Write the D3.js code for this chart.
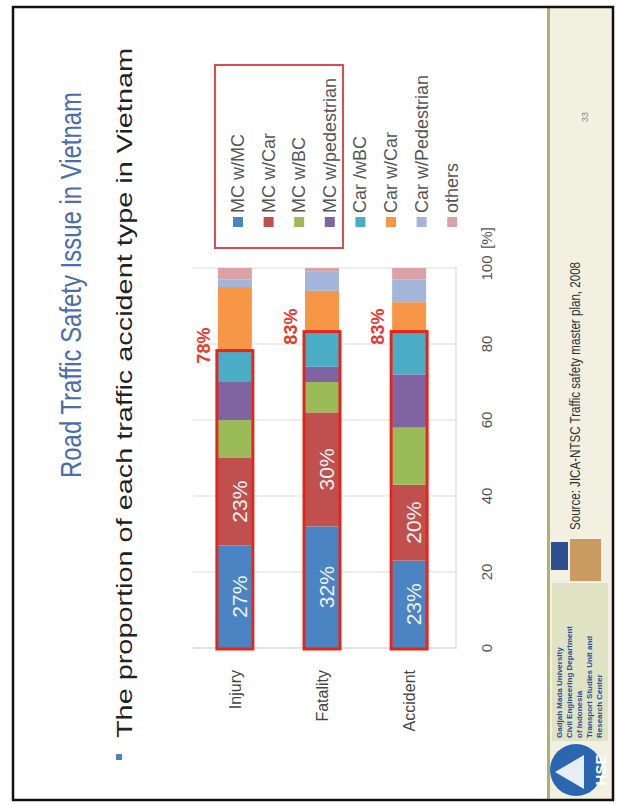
<!DOCTYPE html>
<html>
<head>
<meta charset="utf-8">
<script src="https://cdn.jsdelivr.net/npm/d3@7"></script>
<style>
  body{margin:0;background:#fff;}
  text{font-family:"Liberation Sans",Arial,sans-serif;}
</style>
</head>
<body>
<div class="canvas"></div>
<script>
// chart data
const categories=['Injury','Fatality','Accident'];
const types=['MC w/MC','MC w/Car','MC w/BC','MC w/pedestrian','Car /wBC','Car w/Car','Car w/Pedestrian','others'];
const injury=[27,23,10,10,8,17,2,3];
const fatality=[32,30,8,4,9,11,5,1];
const accident=[23,20,15,14,11,8,6,3];
const highlight=[78,83,83];// red boxed share per bar
const tickVals=[0,20,40,60,80,100];
const colours=['#4a84c2','#c0504d','#9bbb59','#8064a2','#4bacc6','#f79646','#a3b5d9','#dba2a6'];

const W=617,H=805;
const svg=d3.select('.canvas').append('svg')
    .attr('width',W).attr('height',H);

// slide is drawn landscape and turned a quarter left
const slide=svg.append('g')
    .attr('transform',`translate(0,${H}) rotate(-90)`);

// frame + footer band
slide.append('rect').attr('x',5).attr('y',550).attr('width',793).attr('height',62)
    .attr('fill','#f1f0e1');
slide.append('line').attr('x1',5).attr('x2',798).attr('y1',548.5).attr('y2',548.5)
    .attr('stroke','#aeb070').attr('stroke-width',3);
slide.append('rect').attr('x',5).attr('y',13).attr('width',793).attr('height',600)
    .attr('fill','none').attr('stroke','#111').attr('stroke-width',2.5);

// title + bullet
slide.append('text').attr('x',327).attr('y',81)
    .attr('font-size',29).attr('fill','#4a6ea8')
    .attr('textLength',386).attr('lengthAdjust','spacingAndGlyphs')
    .text('Road Traffic Safety Issue in Vietnam');
slide.append('rect').attr('x',45).attr('y',116).attr('width',6).attr('height',6).attr('fill','#4f81bd');
slide.append('text').attr('x',67).attr('y',132)
    .attr('font-size',22).attr('fill','#222')
    .attr('textLength',690).attr('lengthAdjust','spacingAndGlyphs')
    .text('The proportion of each traffic accident type in Vietnam');

// scales
const x=d3.scaleLinear().domain([0,100]).range([157,537]);
const y=d3.scaleBand().domain(categories).range([190,454]).paddingInner(0.61).paddingOuter(0.32);
const colour=d3.scaleOrdinal().domain(types).range(colours);

const rows=[injury,fatality,accident].map((vals,i)=>{
    const r={cat:categories[i]};
    types.forEach((t,j)=>r[t]=vals[j]);
    return r;
});
const stack=d3.stack().keys(types)(rows);

const graph=slide.append('g');

// gridlines
graph.selectAll('line.grid').data(tickVals).enter().append('line')
    .attr('x1',d=>x(d)).attr('x2',d=>x(d))
    .attr('y1',193).attr('y2',457)
    .attr('stroke',d=>d===0?'#c8c8c8':'#dcdcdc').attr('stroke-width',1.2);
graph.append('line').attr('x1',x(0)).attr('x2',x(100)).attr('y1',456).attr('y2',456)
    .attr('stroke','#d6d6d6').attr('stroke-width',1);

// tick labels on value axis
graph.selectAll('text.tick').data(tickVals).enter().append('text')
    .attr('x',d=>x(d)).attr('y',492)
    .attr('text-anchor','middle').attr('font-size',15).attr('fill','#555')
    .text(d=>d);
graph.append('text').attr('x',567).attr('y',492)
    .attr('text-anchor','middle').attr('font-size',15).attr('fill','#555')
    .text('[%]');

// category labels
graph.selectAll('text.cat').data(categories).enter().append('text')
    .attr('x',135).attr('y',d=>y(d)+y.bandwidth()/2+6)
    .attr('text-anchor','end').attr('font-size',16).attr('fill','#444')
    .text(d=>d);

// stacked segments
const layers=graph.selectAll('g.layer').data(stack).enter().append('g')
    .attr('fill',d=>colour(d.key));
layers.selectAll('rect').data(d=>d).enter().append('rect')
    .attr('x',d=>x(d[0])).attr('width',d=>x(d[1])-x(d[0]))
    .attr('y',d=>y(d.data.cat)).attr('height',y.bandwidth());

// values on the first two segments
stack.slice(0,2).forEach(layer=>{
    graph.selectAll(null).data(layer).enter().append('text')
        .attr('x',d=>x((d[0]+d[1])/2)).attr('y',d=>y(d.data.cat)+y.bandwidth()/2+12)
        .attr('text-anchor','middle').attr('font-size',21).attr('fill','#eef2f7')
        .text(d=>`${d[1]-d[0]}%`);
});

// red boxes and their shares
graph.selectAll('rect.hl').data(highlight).enter().append('rect')
    .attr('x',x(0)-1).attr('width',d=>x(d)-x(0)+2)
    .attr('y',(d,i)=>y(categories[i])-1).attr('height',y.bandwidth()+2)
    .attr('fill','none').attr('stroke','#e3261c').attr('stroke-width',3);
graph.selectAll('text.hl').data(highlight).enter().append('text')
    .attr('x',d=>x(d)+6).attr('y',(d,i)=>y(categories[i])-8)
    .attr('text-anchor','middle').attr('font-size',18).attr('font-weight','bold')
    .attr('font-family','"Liberation Serif","Times New Roman",serif').attr('fill','#e8392f')
    .text(d=>`${d}%`);

// legend
const leg=slide.append('g');
leg.append('rect').attr('x',557).attr('y',215).attr('width',183).attr('height',128)
    .attr('fill','none').attr('stroke','#df4a50').attr('stroke-width',2);
const items=leg.selectAll('g.item').data(types).enter().append('g')
    .attr('transform',(d,i)=>`translate(583,${238+i*30.6})`);
items.append('rect').attr('x',-5).attr('y',-5).attr('width',10).attr('height',10)
    .attr('fill',d=>colour(d));
items.append('text').attr('x',9).attr('y',6)
    .attr('font-size',18).attr('fill','#555')
    .text(d=>d);

// footer: source, page no, logos
slide.append('text').attr('x',275).attr('y',580)
    .attr('font-family','"Liberation Serif","Times New Roman",serif')
    .attr('font-size',15).attr('fill','#333')
    .attr('textLength',268).attr('lengthAdjust','spacingAndGlyphs')
    .text('Source: JICA-NTSC Traffic safety master plan, 2008');
slide.append('text').attr('x',683).attr('y',588)
    .attr('font-size',9).attr('fill','#888').text('33');

const logo=slide.append('g');
logo.append('circle').attr('cx',35).attr('cy',576).attr('r',26).attr('fill','#2a67b0');
logo.append('path').attr('d','M33,555 L50,584 L16,584 Z').attr('fill','#e8eef8');
logo.append('text').attr('x',35).attr('y',606).attr('text-anchor','middle')
    .attr('font-size',15).attr('font-weight','bold').attr('fill','#fff').text('HSE');
logo.append('rect').attr('x',64).attr('y',552).attr('width',158).attr('height',56).attr('fill','#dfe3c4');
['Gadjah Mada University','Civil Engineering Department','of Indonesia','Transport Studies Unit and','Research Center'].forEach((t,i)=>{
    logo.append('text').attr('x',67).attr('y',562+i*10).attr('font-size',8)
        .attr('font-weight','bold').attr('fill','#2a4f9a').text(t);
});
logo.append('rect').attr('x',235).attr('y',551).attr('width',28).attr('height',17).attr('fill','#2b4f8f');
logo.append('rect').attr('x',224).attr('y',570).attr('width',42).attr('height',31).attr('fill','#c99a62');
</script>
</body>
</html>
